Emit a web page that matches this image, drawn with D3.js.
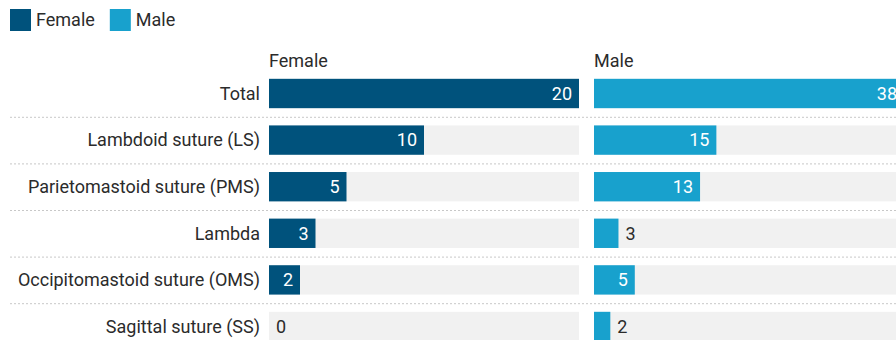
<!DOCTYPE html>
<html>
<head>
<meta charset="utf-8">
<script src="https://cdn.jsdelivr.net/npm/d3@7"></script>
<style>
  body { margin: 0; overflow: hidden; background: #fff; font-family: Roboto, "Noto Sans", sans-serif; }
  svg { display: block; }
</style>
</head>
<body>
<svg></svg>
<script>
// data
const categories = ["Total", "Lambdoid suture (LS)", "Parietomastoid suture (PMS)", "Lambda", "Occipitomastoid suture (OMS)", "Sagittal suture (SS)"];
const seriesNames = ["Female", "Male"];
const femaleValues = [20, 10, 5, 3, 2, 0];
const maleValues = [38, 15, 13, 3, 5, 2];
const colors = ["#00527c", "#18a1cd"];

const width = 920;
const height = 340;
const labelRight = 260;
const panelWidth = 310;
const panelGap = 15;
const panelLeft = 269;
const fontSize = 18;
const textColor = "#2b2b2b";

const svg = d3.select("svg")
    .attr("width", width)
    .attr("height", height)
    .style("font-family", "Roboto, 'Noto Sans', sans-serif");

// legend
const legend = svg.append("g").attr("transform", "translate(10,9)");
let lx = 0;
seriesNames.forEach((name, i) => {
    const g = legend.append("g").attr("transform", `translate(${lx},0)`);
    g.append("rect").attr("width", 21).attr("height", 22).attr("fill", colors[i]);
    const t = g.append("text")
        .attr("x", 26).attr("y", 17)
        .attr("font-size", fontSize).attr("fill", textColor)
        .text(name);
    lx += 26 + t.node().getComputedTextLength() + 15;
});

// rows
const yScale = d3.scaleBand()
    .domain(categories)
    .range([70.2, 70.2 + 46.6 * categories.length])
    .paddingInner(0.37)
    .paddingOuter(0.185);

// dotted separators
svg.selectAll("line.sep")
    .data(categories.slice(0, -1))
    .enter()
    .append("line")
    .attr("class", "sep")
    .attr("x1", 10)
    .attr("x2", width)
    .attr("y1", d => yScale(d) + yScale.bandwidth() + yScale.step() * 0.185 + 0.5)
    .attr("y2", d => yScale(d) + yScale.bandwidth() + yScale.step() * 0.185 + 0.5)
    .attr("stroke", "#c8c8c8")
    .attr("stroke-width", 1)
    .attr("stroke-dasharray", "2,2");

// category labels
svg.selectAll("text.cat")
    .data(categories)
    .enter()
    .append("text")
    .attr("class", "cat")
    .attr("x", labelRight)
    .attr("y", d => yScale(d) + yScale.bandwidth() / 2)
    .attr("dy", "0.35em")
    .attr("text-anchor", "end")
    .attr("font-size", fontSize)
    .attr("fill", textColor)
    .text(d => d);

// panels
[femaleValues, maleValues].forEach((values, p) => {
    const x0 = panelLeft + p * (panelWidth + panelGap);
    const xScale = d3.scaleLinear()
        .domain([0, d3.max(values)])
        .range([x0, x0 + panelWidth]);

    const g = svg.append("g");

    g.append("text")
        .attr("x", x0)
        .attr("y", 67)
        .attr("font-size", fontSize)
        .attr("fill", textColor)
        .text(seriesNames[p]);

    g.selectAll("rect.bg")
        .data(categories)
        .enter()
        .append("rect")
        .attr("class", "bg")
        .attr("x", x0)
        .attr("y", d => yScale(d))
        .attr("width", panelWidth)
        .attr("height", yScale.bandwidth())
        .attr("fill", "#f1f1f1");

    g.selectAll("rect.bar")
        .data(values)
        .enter()
        .append("rect")
        .attr("class", "bar")
        .attr("x", x0)
        .attr("y", (v, i) => yScale(categories[i]))
        .attr("width", v => xScale(v) - x0)
        .attr("height", yScale.bandwidth())
        .attr("fill", colors[p]);

    g.selectAll("text.val")
        .data(values)
        .enter()
        .append("text")
        .attr("class", "val")
        .attr("y", (v, i) => yScale(categories[i]) + yScale.bandwidth() / 2)
        .attr("dy", "0.35em")
        .attr("font-size", fontSize)
        .each(function (v) {
            const inside = xScale(v) - x0 > 28;
            d3.select(this)
                .attr("x", inside ? xScale(v) - 7 : xScale(v) + 7)
                .attr("text-anchor", inside ? "end" : "start")
                .attr("fill", inside ? "#fff" : textColor);
        })
        .text(v => v);
});
</script>
</body>
</html>
